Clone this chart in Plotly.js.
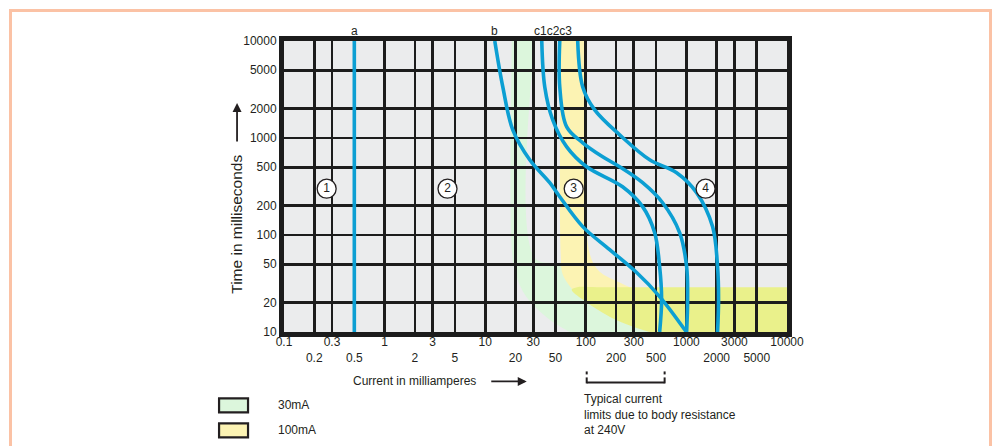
<!DOCTYPE html>
<html><head><meta charset="utf-8">
<script src="https://cdn.plot.ly/plotly-3.0.1.min.js"></script>
<style>
html,body{margin:0;padding:0;background:#fff;}
#wrap{position:relative;width:1000px;height:446px;overflow:hidden;}
#chart{width:1000px;height:446px;}
#frame{position:absolute;left:9px;top:9px;width:983px;height:470px;border:3px solid #fbc2a5;pointer-events:none;box-sizing:border-box;}
</style></head><body>
<div id="wrap"><div id="chart"></div><div id="frame"></div></div>
<script>
// ---------- data ----------
const xTickVals = [0.1,0.2,0.3,0.5,1,2,3,5,10,20,30,50,100,200,300,500,1000,2000,3000,5000,10000];
const xTickLabels = ['0.1','0.2','0.3','0.5','1','2','3','5','10','20','30','50','100','200','300','500','1000','2000','3000','5000','10000'];
const xTickRow = [1,2,1,2,1,2,1,2,1,2,1,2,1,2,1,2,1,2,1,2,1];
const yTickVals = [10,20,50,100,200,500,1000,2000,5000,10000];
const yTickLabels = ['10','20','50','100','200','500','1000','2000','5000','10000'];

// curves (current mA, time ms)
const curveA_x = [0.5, 0.5];
const curveA_y = [10, 10000];
const curveB_x = [12.45, 14.96, 18.8, 27.7, 43.8, 55.1, 93.2, 172.7, 320, 542, 1000];
const curveB_y = [10000, 3362, 1213, 596, 346, 248, 122, 70.6, 41.0, 23.2, 10];
const curveC1_x = [36.5, 39.1, 46.9, 64.6, 102, 232, 367, 483, 542, 567, 542];
const curveC1_y = [10000, 3362, 1538, 811, 505, 314, 196, 106, 47.2, 21.6, 10];
const curveC2_x = [55.1, 55.1, 64.6, 93.2, 147, 217, 367, 580, 856, 1005, 1028, 1005];
const curveC2_y = [10000, 3362, 1302, 892, 640, 505, 346, 215, 106, 47.2, 21.6, 10];
const curveC3_x = [83.1, 93.2, 122.6, 217, 431, 799, 1263, 1820, 2040, 2088, 2040];
const curveC3_y = [10000, 3362, 1949, 1078, 596, 438, 273, 122, 47.2, 21.6, 10];
const curveNames = ['a','b','c1c2c3'];
const curveLabelX = [0.5, 12.45, 46.9];

// zones
const zoneX = [0.2655, 4.22, 75.8, 1551];
const zoneY = [300, 300, 300, 300];
const zoneLabels = ['1','2','3','4'];

// shaded bands: boundary pieces (mA / ms)
const band30_outer_x = [18.37, 18.37, 19.68, 23.1, 29.7, 43.8, 69.2];
const band30_outer_y = [10000, 70.6, 44.0, 27.4, 19.2, 13.4, 10];
const band30_inner_x = [431, 137.4, 56.3, 31.1, 31.1];
const band30_inner_y = [10, 27.4, 49.5, 58.4, 10000];
const band100_outer_x = [56.3, 56.3, 58.97, 72.4];
const band100_outer_y = [10000, 62.8, 39.1, 28.0];
const band100_inner_x = [292, 217, 137.4, 114.4, 102, 102];
const band100_inner_y = [28.0, 32.3, 41.9, 55.7, 106, 10000];
const bandLow_edge_x = [10000, 431];
const bandLow_edge_y = [10, 10];
const bandLow_curve_x = [431, 292, 172.7, 93.2, 72.4, 82, 130, 10000];
const bandLow_curve_y = [10, 11.4, 14.4, 21.6, 27.4, 29.0, 29.0, 29.0];

const legendLabels = ['30mA','100mA'];

// ---------- styling / helpers ----------
const L = 284, R = 787.5, T = 41, B = 332.5;
const px2x = p => (p - L) / (R - L);
const py2y = p => (B - p) / (B - T);
const INK = '#231f20';
const BLUE = '#0c9fd3';
const GRID = '#1c1c1c';
const C_GREEN = '#dcf6dc', C_YEL = '#fcf3b3', C_LOW = '#eaf18b';
const FONT = '"Liberation Sans", Arial, Helvetica, sans-serif';

// smooth (centripetal Catmull-Rom, as in Plotly splines) in log space
function smoothSeg(xs, ys) {
  const P = xs.map((x, i) => [Math.log10(x), Math.log10(ys[i])]);
  const f = p => Math.pow(10, p[0]) + ',' + Math.pow(10, p[1]);
  if (P.length < 3) return ' L' + f(P[P.length - 1]);
  const tang = [];
  for (let i = 1; i < P.length - 1; i++) {
    const a = P[i-1], t = P[i], n = P[i+1];
    const d1x = a[0]-t[0], d1y = a[1]-t[1], d2x = n[0]-t[0], d2y = n[1]-t[1];
    const d1a = Math.pow(d1x*d1x + d1y*d1y, 0.25), d2a = Math.pow(d2x*d2x + d2y*d2y, 0.25);
    const nx = d2a*d2a*d1x - d1a*d1a*d2x, ny = d2a*d2a*d1y - d1a*d1a*d2y;
    const den1 = 3*d2a*(d1a+d2a), den2 = 3*d1a*(d1a+d2a);
    tang.push([[t[0] + (den1 && nx/den1), t[1] + (den1 && ny/den1)],
               [t[0] - (den2 && nx/den2), t[1] - (den2 && ny/den2)]]);
  }
  let d = ' Q' + f(tang[0][0]) + ' ' + f(P[1]);
  for (let i = 2; i < P.length - 1; i++) {
    d += ' C' + f(tang[i-2][1]) + ' ' + f(tang[i-1][0]) + ' ' + f(P[i]);
  }
  d += ' Q' + f(tang[P.length-3][1]) + ' ' + f(P[P.length-1]);
  return d;
}
function bandPath(segs) {
  let d = '';
  segs.forEach((s, k) => {
    d += (k === 0 ? 'M' : ' L') + s[0][0] + ',' + s[1][0];
    d += smoothSeg(s[0], s[1]);
  });
  return d + ' Z';
}

function curve(xs, ys) {
  return {x: xs, y: ys, type: 'scatter', mode: 'lines', hoverinfo: 'skip',
          line: {color: BLUE, width: 3.6, shape: 'spline', smoothing: 1}};
}

const traces = [
  curve(curveA_x, curveA_y),
  curve(curveB_x, curveB_y),
  curve(curveC1_x, curveC1_y),
  curve(curveC2_x, curveC2_y),
  curve(curveC3_x, curveC3_y),
  {x: zoneX, y: zoneY, type: 'scatter', mode: 'markers+text', text: zoneLabels,
   textposition: 'middle center', hoverinfo: 'skip', cliponaxis: false,
   textfont: {family: FONT, size: 12, color: INK},
   marker: {size: 19, color: '#ffffff', line: {color: INK, width: 1.3}}}
];

const shapes = [
  {type: 'path', xref: 'x', yref: 'y', layer: 'below', fillcolor: C_GREEN, line: {width: 0},
   path: bandPath([[band30_outer_x, band30_outer_y], [band30_inner_x, band30_inner_y]])},
  {type: 'path', xref: 'x', yref: 'y', layer: 'below', fillcolor: C_YEL, line: {width: 0},
   path: bandPath([[band100_outer_x, band100_outer_y], [band100_inner_x, band100_inner_y]])},
  {type: 'path', xref: 'x', yref: 'y', layer: 'below', fillcolor: C_LOW, line: {width: 0},
   path: bandPath([[bandLow_edge_x, bandLow_edge_y], [bandLow_curve_x, bandLow_curve_y]])},
  // legend boxes
  {type: 'rect', xref: 'paper', yref: 'paper', x0: px2x(219), x1: px2x(248), y0: py2y(399), y1: py2y(413), fillcolor: C_GREEN, line: {color: INK, width: 2.2}},
  {type: 'rect', xref: 'paper', yref: 'paper', x0: px2x(219), x1: px2x(248), y0: py2y(424), y1: py2y(438), fillcolor: C_YEL, line: {color: INK, width: 2.2}}
];
// bracket
[[587,372,587,375],[587,378,587,384],[665,372,665,375],[665,378,665,384],[587,383,665,383]].forEach(s => {
  shapes.push({type: 'line', xref: 'paper', yref: 'paper', x0: px2x(s[0]), y0: py2y(s[1]), x1: px2x(s[2]), y1: py2y(s[3]), line: {color: INK, width: 2}});
});

const annotations = [
  {xref: 'paper', yref: 'paper', x: px2x(237), y: py2y(225), text: 'Time in milliseconds', textangle: -90, showarrow: false, xanchor: 'center', yanchor: 'middle', font: {size: 15.5}},
  {xref: 'paper', yref: 'paper', x: px2x(237), y: py2y(103), text: '', showarrow: true, ax: 0, ay: 40, arrowhead: 2, arrowsize: 1, arrowwidth: 1.8, arrowcolor: INK, standoff: 0},
  {xref: 'paper', yref: 'paper', x: px2x(351), y: py2y(382), text: 'Current in milliamperes', showarrow: false, xanchor: 'left', yanchor: 'middle', font: {size: 12}},
  {xref: 'paper', yref: 'paper', x: px2x(527), y: py2y(382), text: '', showarrow: true, ax: -37, ay: 0, arrowhead: 2, arrowsize: 1, arrowwidth: 1.8, arrowcolor: INK, standoff: 0},
  {xref: 'paper', yref: 'paper', x: px2x(582), y: py2y(391), text: 'Typical current<br>limits due to body resistance<br>at 240V', showarrow: false, xanchor: 'left', yanchor: 'top', align: 'left', font: {size: 12}},
  {xref: 'paper', yref: 'paper', x: px2x(276), y: py2y(406), text: legendLabels[0], showarrow: false, xanchor: 'left', yanchor: 'middle', font: {size: 12}},
  {xref: 'paper', yref: 'paper', x: px2x(276), y: py2y(431), text: legendLabels[1], showarrow: false, xanchor: 'left', yanchor: 'middle', font: {size: 12}}
];
curveNames.forEach((n, i) => {
  annotations.push({xref: 'x', yref: 'paper', x: Math.log10(curveLabelX[i]), y: py2y(31), text: n, showarrow: false, xanchor: 'center', yanchor: 'middle', font: {size: 12}});
});

const axisCommon = {
  type: 'log', tickmode: 'array', showgrid: true, gridcolor: GRID, gridwidth: 2.7,
  showline: true, mirror: true, linecolor: GRID, linewidth: 5, ticks: '', zeroline: false,
  fixedrange: true, tickfont: {family: FONT, size: 12, color: INK}
};

const layout = {
  width: 1000, height: 446,
  margin: {l: L, r: 1000 - R, t: T, b: 446 - B, pad: 0},
  paper_bgcolor: '#ffffff', plot_bgcolor: '#ebeced',
  showlegend: false,
  font: {family: FONT, size: 12, color: INK},
  xaxis: Object.assign({}, axisCommon, {range: [-1, 4], tickvals: xTickVals, tickangle: 0, ticklabelstandoff: -5,
    ticktext: xTickLabels.map((t, i) => xTickRow[i] === 2 ? '<br>' + t : t)}),
  yaxis: Object.assign({}, axisCommon, {range: [1, 4], tickvals: yTickVals, ticktext: yTickLabels}),
  shapes: shapes,
  annotations: annotations
};

Plotly.newPlot('chart', traces, layout, {staticPlot: true, displayModeBar: false});
</script>
</body></html>
